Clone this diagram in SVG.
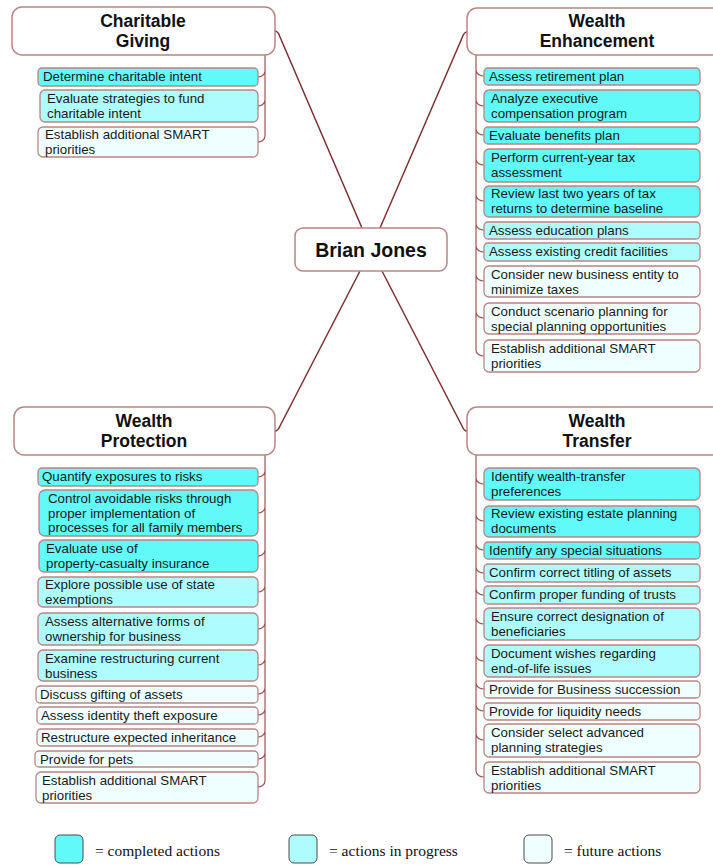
<svg xmlns="http://www.w3.org/2000/svg" width="713" height="865" viewBox="0 0 713 865">
<style>
.bg{fill:#ffffff}
.main{fill:#ffffff;stroke:#b98585;stroke-width:1.5}
.c{fill:#62f9f9;stroke:#b98585;stroke-width:1.3}
.p{fill:#aefcfc;stroke:#b98585;stroke-width:1.3}
.f{fill:#effefe;stroke:#b98585;stroke-width:1.3}
.lg{stroke:#4a4a4a;stroke-width:1}
.h{font-family:"Liberation Sans",Arial,sans-serif;font-weight:bold;font-size:17.5px;fill:#111;text-anchor:middle}
.ctr{font-family:"Liberation Sans",Arial,sans-serif;font-weight:bold;font-size:19.5px;fill:#111;text-anchor:middle}
.t{font-family:"Liberation Sans",Arial,sans-serif;font-size:13.3px;fill:#1a1a1a}
.l{font-family:"Liberation Serif","Times New Roman",serif;font-size:15.5px;fill:#111}
.conn{fill:none;stroke:#7d3232;stroke-width:1.5}
.trunk{fill:none;stroke:#9c5555;stroke-width:1.2}
</style>
<rect class="bg" x="0" y="0" width="713" height="865"/>

<g id="connectors">
<path class="conn" d="M362,228 L280,37 Q278,31 275,31"/>
<path class="conn" d="M380,228 L462,38 Q464,32 467,32"/>
<path class="conn" d="M360,271 L280,426 Q278,431 275,431"/>
<path class="conn" d="M382,271 L462,426 Q464,431 467,431"/>
<path class="trunk" d="M265,55 L265,136 M265,71 C265,75 261,77 258,77 M265,100 C265,104 261,106 258,106 M265,136 C265,140 261,142 258,142"/>
<path class="trunk" d="M476,55 L476,350 M476,70 C476,74 480,76 484,76 M476,100 C476,104 480,106 484,106 M476,129 C476,133 480,135 484,135 M476,159 C476,163 480,165 484,165 M476,195 C476,199 480,201 484,201 M476,224 C476,228 480,230 484,230 M476,246 C476,250 480,252 484,252 M476,275 C476,279 480,281 484,281 M476,312 C476,316 480,318 484,318 M476,350 C476,354 480,356 484,356"/>
<path class="trunk" d="M265,455 L265,781 M265,471 C265,475 261,477 258,477 M265,507 C265,511 261,513 258,513 M265,550 C265,554 261,556 258,556 M265,586 C265,590 261,592 258,592 M265,623 C265,627 261,629 258,629 M265,659 C265,663 261,665 258,665 M265,688 C265,692 261,694 258,694 M265,709 C265,713 261,715 258,715 M265,731 C265,735 261,737 258,737 M265,753 C265,757 261,759 258,759 M265,781 C265,785 261,787 258,787"/>
<path class="trunk" d="M476,455 L476,771 M476,478 C476,482 480,484 484,484 M476,515 C476,519 480,521 484,521 M476,544 C476,548 480,550 484,550 M476,567 C476,571 480,573 484,573 M476,589 C476,593 480,595 484,595 M476,618 C476,622 480,624 484,624 M476,655 C476,659 480,661 484,661 M476,683 C476,687 480,689 484,689 M476,705 C476,709 480,711 484,711 M476,734 C476,738 480,740 484,740 M476,771 C476,775 480,777 484,777"/>
</g>

<g id="center">
<rect class="main" x="295" y="228" width="152" height="43" rx="8"/>
<text class="ctr" x="371" y="257">Brian Jones</text>
</g>

<g id="charitable-giving">
<rect class="main" x="12" y="7" width="263" height="48" rx="10"/>
<text class="h" x="143" y="27">Charitable</text>
<text class="h" x="143" y="47">Giving</text>
</g>
<g id="cg-1"><rect class="c" x="38" y="68" width="220" height="18" rx="4"/><text class="t" x="43" y="81">Determine charitable intent</text></g>
<g id="cg-2"><rect class="p" x="40" y="90" width="218" height="32" rx="5"/><text class="t" x="47" y="103">Evaluate strategies to fund</text><text class="t" x="47" y="118">charitable intent</text></g>
<g id="cg-3"><rect class="f" x="38" y="127" width="220" height="30" rx="5"/><text class="t" x="45" y="139">Establish additional SMART</text><text class="t" x="45" y="154">priorities</text></g>

<g id="wealth-enhancement">
<rect class="main" x="467" y="8" width="262" height="47" rx="10"/>
<text class="h" x="597" y="27">Wealth</text>
<text class="h" x="597" y="47">Enhancement</text>
</g>
<g id="we-1"><rect class="c" x="484" y="68" width="216" height="17" rx="4"/><text class="t" x="489" y="81">Assess retirement plan</text></g>
<g id="we-2"><rect class="c" x="484" y="90" width="216" height="32" rx="5"/><text class="t" x="491" y="103">Analyze executive</text><text class="t" x="491" y="118">compensation program</text></g>
<g id="we-3"><rect class="c" x="484" y="127" width="216" height="17" rx="4"/><text class="t" x="489" y="140">Evaluate benefits plan</text></g>
<g id="we-4"><rect class="c" x="484" y="149" width="216" height="33" rx="5"/><text class="t" x="491" y="162">Perform current-year tax</text><text class="t" x="491" y="177">assessment</text></g>
<g id="we-5"><rect class="c" x="484" y="186" width="216" height="31" rx="5"/><text class="t" x="491" y="198">Review last two years of tax</text><text class="t" x="491" y="213">returns to determine baseline</text></g>
<g id="we-6"><rect class="p" x="484" y="222" width="216" height="17" rx="4"/><text class="t" x="489" y="235">Assess education plans</text></g>
<g id="we-7"><rect class="p" x="484" y="243" width="216" height="18" rx="4"/><text class="t" x="489" y="256">Assess existing credit facilities</text></g>
<g id="we-8"><rect class="f" x="484" y="266" width="216" height="31" rx="5"/><text class="t" x="491" y="279">Consider new business entity to</text><text class="t" x="491" y="294">minimize taxes</text></g>
<g id="we-9"><rect class="f" x="484" y="303" width="216" height="31" rx="5"/><text class="t" x="491" y="316">Conduct scenario planning for</text><text class="t" x="491" y="331">special planning opportunities</text></g>
<g id="we-10"><rect class="f" x="484" y="340" width="216" height="32" rx="5"/><text class="t" x="491" y="353">Establish additional SMART</text><text class="t" x="491" y="368">priorities</text></g>

<g id="wealth-protection">
<rect class="main" x="14" y="407" width="261" height="48" rx="10"/>
<text class="h" x="144" y="427">Wealth</text>
<text class="h" x="144" y="447">Protection</text>
</g>
<g id="wp-1"><rect class="c" x="38" y="468" width="220" height="18" rx="4"/><text class="t" x="42" y="481">Quantify exposures to risks</text></g>
<g id="wp-2"><rect class="c" x="39" y="490" width="219" height="46" rx="6"/><text class="t" x="48" y="503">Control avoidable risks through</text><text class="t" x="48" y="518">proper implementation of</text><text class="t" x="48" y="532">processes for all family members</text></g>
<g id="wp-3"><rect class="c" x="39" y="540" width="219" height="32" rx="5"/><text class="t" x="46" y="553">Evaluate use of</text><text class="t" x="46" y="568">property-casualty insurance</text></g>
<g id="wp-4"><rect class="p" x="38" y="577" width="220" height="30" rx="5"/><text class="t" x="45" y="589">Explore possible use of state</text><text class="t" x="45" y="604">exemptions</text></g>
<g id="wp-5"><rect class="p" x="38" y="613" width="220" height="32" rx="5"/><text class="t" x="45" y="626">Assess alternative forms of</text><text class="t" x="45" y="641">ownership for business</text></g>
<g id="wp-6"><rect class="p" x="38" y="650" width="220" height="31" rx="5"/><text class="t" x="45" y="663">Examine restructuring current</text><text class="t" x="45" y="678">business</text></g>
<g id="wp-7"><rect class="f" x="36" y="686" width="222" height="17" rx="4"/><text class="t" x="40" y="699">Discuss gifting of assets</text></g>
<g id="wp-8"><rect class="f" x="37" y="707" width="221" height="17" rx="4"/><text class="t" x="41" y="720">Assess identity theft exposure</text></g>
<g id="wp-9"><rect class="f" x="37" y="729" width="221" height="17" rx="4"/><text class="t" x="41" y="742">Restructure expected inheritance</text></g>
<g id="wp-10"><rect class="f" x="35" y="751" width="223" height="16" rx="4"/><text class="t" x="40" y="764">Provide for pets</text></g>
<g id="wp-11"><rect class="f" x="36" y="772" width="222" height="31" rx="5"/><text class="t" x="42" y="785">Establish additional SMART</text><text class="t" x="42" y="800">priorities</text></g>

<g id="wealth-transfer">
<rect class="main" x="467" y="407" width="262" height="48" rx="10"/>
<text class="h" x="597" y="427">Wealth</text>
<text class="h" x="597" y="447">Transfer</text>
</g>
<g id="wt-1"><rect class="c" x="484" y="468" width="216" height="32" rx="5"/><text class="t" x="491" y="481">Identify wealth-transfer</text><text class="t" x="491" y="496">preferences</text></g>
<g id="wt-2"><rect class="c" x="484" y="506" width="216" height="31" rx="5"/><text class="t" x="491" y="518">Review existing estate planning</text><text class="t" x="491" y="533">documents</text></g>
<g id="wt-3"><rect class="c" x="484" y="542" width="216" height="17" rx="4"/><text class="t" x="489" y="555">Identify any special situations</text></g>
<g id="wt-4"><rect class="p" x="484" y="564" width="216" height="18" rx="4"/><text class="t" x="489" y="577">Confirm correct titling of assets</text></g>
<g id="wt-5"><rect class="p" x="484" y="586" width="216" height="18" rx="4"/><text class="t" x="489" y="599">Confirm proper funding of trusts</text></g>
<g id="wt-6"><rect class="p" x="484" y="608" width="216" height="32" rx="5"/><text class="t" x="491" y="621">Ensure correct designation of</text><text class="t" x="491" y="636">beneficiaries</text></g>
<g id="wt-7"><rect class="p" x="484" y="645" width="216" height="32" rx="5"/><text class="t" x="491" y="658">Document wishes regarding</text><text class="t" x="491" y="673">end-of-life issues</text></g>
<g id="wt-8"><rect class="f" x="484" y="681" width="216" height="17" rx="4"/><text class="t" x="489" y="694">Provide for Business succession</text></g>
<g id="wt-9"><rect class="f" x="484" y="703" width="216" height="17" rx="4"/><text class="t" x="489" y="716">Provide for liquidity needs</text></g>
<g id="wt-10"><rect class="f" x="484" y="724" width="216" height="33" rx="5"/><text class="t" x="491" y="737">Consider select advanced</text><text class="t" x="491" y="752">planning strategies</text></g>
<g id="wt-11"><rect class="f" x="484" y="762" width="216" height="31" rx="5"/><text class="t" x="491" y="775">Establish additional SMART</text><text class="t" x="491" y="790">priorities</text></g>

<g id="legend">
<rect class="c lg" x="55" y="835" width="28" height="28" rx="5"/>
<text class="l" x="95" y="856">= completed  actions</text>
<rect class="p lg" x="289" y="835" width="28" height="28" rx="5"/>
<text class="l" x="329" y="856">= actions in progress</text>
<rect class="f lg" x="524" y="835" width="28" height="28" rx="5"/>
<text class="l" x="564" y="856">= future actions</text>
</g>
</svg>
